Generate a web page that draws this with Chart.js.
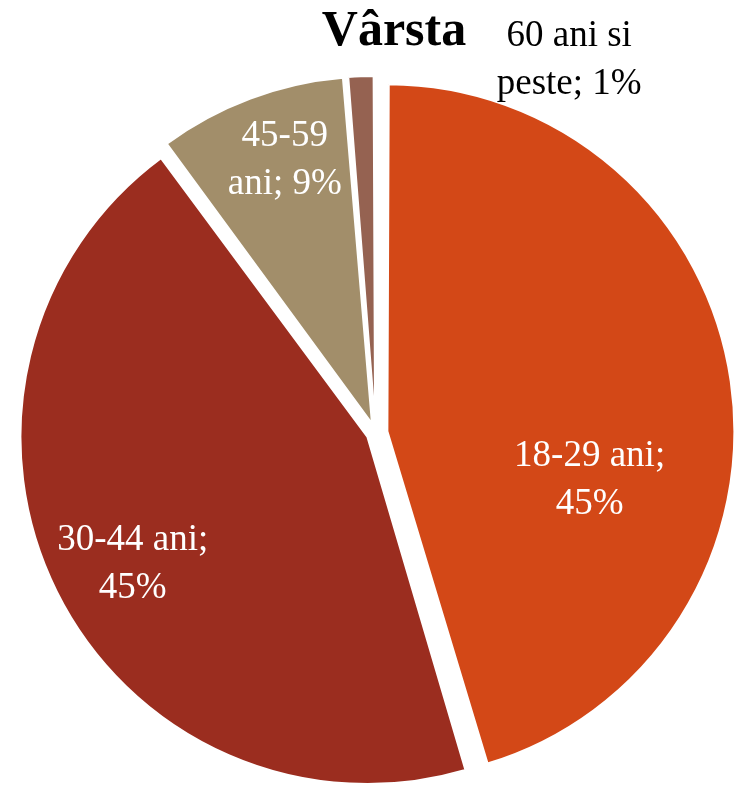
<!DOCTYPE html>
<html lang="ro">
<head>
<meta charset="utf-8">
<title>Vârsta</title>
<script src="https://cdn.jsdelivr.net/npm/chart.js@4.4.1/dist/chart.umd.min.js"></script>
<style>
  html, body { margin: 0; padding: 0; background: #fff; }
  #wrap { position: relative; width: 734px; height: 786px; }
</style>
</head>
<body>
<div id="wrap"><canvas id="ageChart"></canvas></div>
<script>
// Respondenți pe grupe de vârstă (%)
const categories = ['18-29 ani', '30-44 ani', '45-59 ani', '60 ani si peste'];
const shares = [45.4, 44.5, 8.8, 1.3];

const colors = ['#D34817', '#9B2D1F', '#A28E6A', '#956251'];
// cât iese fiecare felie din centru (px)
const explode = [12, 9, 10, 10];

const RADIUS = 347;
const FONT = '"Liberation Serif", "Times New Roman", serif';
const TITLE = 'Vârsta';

// eticheta fiecărei felii: rotire față de bisectoare (grade), rază relativă, lățime maximă de rând
const labelPlace = [
  {turn: 22.0, r: 0.60, wrap: 200, color: '#fff'},
  {turn: -2.1, r: 0.77, wrap: 200, color: '#fff'},
  {turn: 2.2,  r: 0.80, wrap: 130, color: '#fff'},
  {turn: 30.5, r: 1.185, wrap: 160, color: '#000'},
];

function wrapText(ctx, text, maxW){
  const words = text.split(' ');
  const lines = [];
  let cur = '';
  words.forEach(w => {
    const test = cur ? cur + ' ' + w : w;
    if (cur && ctx.measureText(test).width > maxW) { lines.push(cur); cur = w; }
    else cur = test;
  });
  if (cur) lines.push(cur);
  return lines;
}

// Chart.js mărește raza feliilor deplasate; o readucem la aceeași rază pentru toate
const keepRadius = {
  id: 'keepRadius',
  beforeDatasetsDraw(chart){
    chart.getDatasetMeta(0).data.forEach(arc => {
      const t = (arc.options.offset || 0) / 4;
      const fix = 1 - Math.sin(Math.min(Math.PI, arc.circumference));
      arc.outerRadius = RADIUS - t * fix;
    });
  }
};

const sliceLabels = {
  id: 'sliceLabels',
  afterDatasetsDraw(chart){
    const {ctx} = chart;
    const total = shares.reduce((a, b) => a + b, 0);
    ctx.save();
    ctx.font = `37px ${FONT}`;
    ctx.textAlign = 'center';
    ctx.textBaseline = 'middle';
    chart.getDatasetMeta(0).data.forEach((arc, i) => {
      const p = labelPlace[i];
      const mid = (arc.startAngle + arc.endAngle) / 2;
      const t = (arc.options.offset || 0) / 4;
      const cx = arc.x + Math.cos(mid) * t;
      const cy = arc.y + Math.sin(mid) * t;
      const a = mid + p.turn * Math.PI / 180;
      const x = cx + Math.cos(a) * RADIUS * p.r;
      const y = cy + Math.sin(a) * RADIUS * p.r;
      const txt = `${categories[i]}; ${Math.round(shares[i] / total * 100)}%`;
      const lines = wrapText(ctx, txt, p.wrap);
      ctx.fillStyle = p.color;
      lines.forEach((ln, k) => ctx.fillText(ln, x, y + (k - (lines.length - 1) / 2) * 48));
    });

    // titlu
    ctx.font = `bold 50px ${FONT}`;
    ctx.fillStyle = '#000';
    ctx.textBaseline = 'alphabetic';
    ctx.fillText(TITLE, 394, 45);
    ctx.restore();
  }
};

new Chart(document.getElementById('ageChart'), {
  type: 'pie',
  data: {
    labels: categories,
    datasets: [{
      data: shares,
      backgroundColor: colors,
      borderColor: '#fff',
      borderWidth: 2,
      offset: explode.map(v => v * 4),
      radius: RADIUS
    }]
  },
  options: {
    responsive: true,
    maintainAspectRatio: false,
    animation: false,
    events: [],
    layout: {padding: {left: 17, right: 0, top: 80, bottom: 0}},
    plugins: {legend: {display: false}, tooltip: {enabled: false}}
  },
  plugins: [keepRadius, sliceLabels]
});
</script>
</body>
</html>
